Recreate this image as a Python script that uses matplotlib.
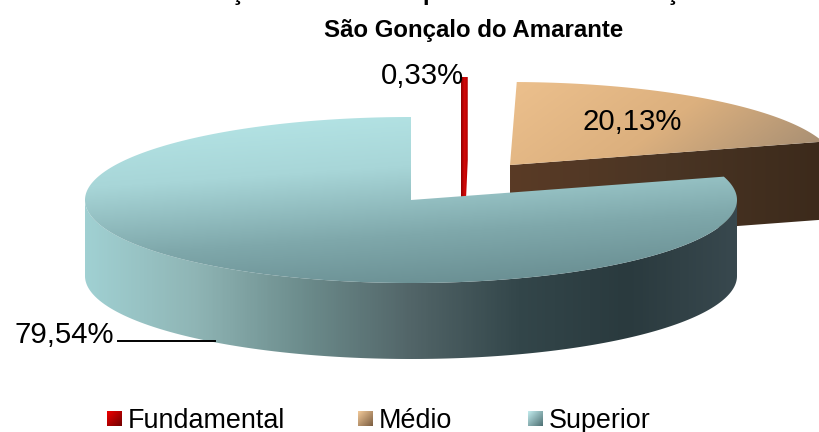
import numpy as np
import matplotlib
matplotlib.use("Agg")
import matplotlib.pyplot as plt
from matplotlib.colors import LinearSegmentedColormap
from matplotlib.patches import Polygon

plt.rcParams["font.family"] = ["Liberation Sans", "DejaVu Sans"]

categories = ["Fundamental", "Médio", "Superior"]
values = [0.33, 20.13, 79.54]
labels = ["0,33%", "20,13%", "79,54%"]
title = "São Gonçalo do Amarante"

# pie geometry, in pixels of the 819x432 image
CX, CY = 411, 200
RX, RY = 326, 83
THICK = [62, 78, 76]
OFFSET = [(50, -40), (99, -35), (0, 0)]

# clockwise from 12 o'clock: Fundamental, Medio, then Superior round to the top
sweep = np.array(values) / sum(values) * 360
ends = np.cumsum(sweep)
starts = ends - sweep


def arc(a0, a1, dx=0, dy=0, n=200):
    t = np.radians(np.linspace(a0, a1, n))
    return np.column_stack([CX + dx + RX * np.sin(t), CY + dy - RY * np.cos(t)])


def grad_fill(ax, pts, colors, angle=0, zorder=2):
    # gradient image clipped to the polygon, angle 0 = left to right
    x0, y0 = pts.min(axis=0)
    x1, y1 = pts.max(axis=0)
    xx, yy = np.meshgrid(np.linspace(0, 1, 200), np.linspace(0, 1, 200))
    c, s = np.cos(np.radians(angle)), np.sin(np.radians(angle))
    g = xx * c + yy * s
    g = (g - g.min()) / (g.max() - g.min())
    cmap = LinearSegmentedColormap.from_list("g", colors)
    im = ax.imshow(g, cmap=cmap, extent=(x0, x1, y1, y0), aspect="auto",
                   interpolation="bilinear", zorder=zorder)
    im.set_clip_path(Polygon(pts, closed=True, transform=ax.transData))


fig = plt.figure(figsize=(8.19, 4.32), dpi=100)
ax = fig.add_axes([0, 0, 1, 1])
ax.axis("off")

# Fundamental: a thin sliver, most of its foot is hidden behind Superior
dx, dy = OFFSET[0]
rim = arc(starts[0], ends[0], dx, dy, 10)
apex_y = CY + dy
sliver = np.vstack([rim, [rim[-1][0], apex_y], [rim[0][0] + 4, apex_y + THICK[0]],
                    [rim[0][0], apex_y + THICK[0]]])
grad_fill(ax, sliver, ["#8e0000", "#d40808", "#b00000"], zorder=3)

# Medio
dx, dy = OFFSET[1]
top = np.vstack([[CX + dx, CY + dy], arc(starts[1], ends[1], dx, dy)])
apex = top[0]
tip = top[-1]
face = np.vstack([apex, tip, tip + [0, THICK[1]], apex + [0, THICK[1]]])
grad_fill(ax, face, ["#5a3b26", "#4a3524", "#3c2a1b"], zorder=2)
grad_fill(ax, top, ["#ecc08d", "#dcb07e", "#a08a72"], angle=20, zorder=3)

# Superior: the wall runs from the right extreme round the front to the left one
dx, dy = OFFSET[2]
top = np.vstack([[CX + dx, CY + dy], arc(starts[2], ends[2], dx, dy, 400)])
rim = arc(90, 270, dx, dy, 300)
wall = np.vstack([rim, (rim + [0, THICK[2]])[::-1]])
grad_fill(ax, wall, ["#a0d0d2", "#8fb5b5", "#6c8c8c", "#526568", "#33464a",
                     "#2a3a3e", "#38484e"], zorder=4)
grad_fill(ax, top, ["#b6e6e7", "#a8d6d8", "#7fa8ab", "#64888c"], angle=75, zorder=5)

ax.set_xlim(0, 819)
ax.set_ylim(432, 0)

# data labels and leader line
ax.text(422, 76, labels[0], fontsize=21.2, color="black", ha="center", va="center", zorder=8)
ax.text(632, 122, labels[1], fontsize=21.2, color="black", ha="center", va="center", zorder=8)
ax.text(64, 335, labels[2], fontsize=21.2, color="black", ha="center", va="center", zorder=8)
ax.plot([118, 215], [341, 341], color="black", lw=1.4, zorder=8)

# title: the first line is cut off by the top edge, only descenders show
ax.text(474, 31, title, fontsize=17.3, fontweight="bold", ha="center", va="center", zorder=8)
for x, ch in [(237, "ç"), (430, "p"), (672, "ç")]:
    ax.text(x, 0, ch, fontsize=17.3, fontweight="bold", ha="center", va="baseline", zorder=8)

# legend
legend_x = [107, 358, 528]
legend_cols = [["#f00000", "#700000"], ["#f4cb9a", "#7a5c40"], ["#c4eef0", "#4d6f72"]]
for x, name, cols in zip(legend_x, categories, legend_cols):
    sq = np.array([[x, 411], [x + 15, 411], [x + 15, 426], [x, 426]])
    grad_fill(ax, sq, cols, angle=45, zorder=6)
    ax.text(x + 21, 421, name, fontsize=19.4, ha="left", va="center", color="black", zorder=8)

ax.set_xlim(0, 819)
ax.set_ylim(432, 0)
fig.savefig("out.png", dpi=100)
